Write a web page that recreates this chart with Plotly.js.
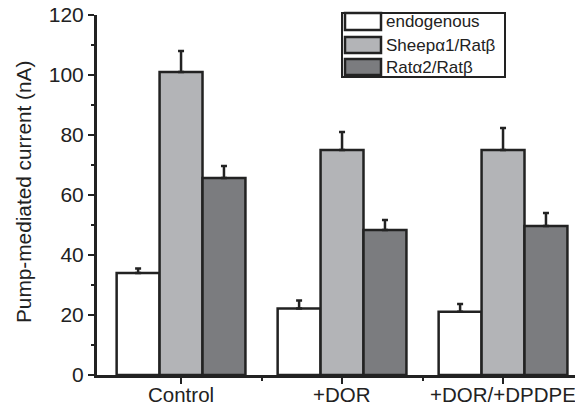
<!DOCTYPE html>
<html>
<head>
<meta charset="utf-8">
<script src="https://cdn.plot.ly/plotly-3.0.1.min.js"></script>
<style>html,body{margin:0;padding:0;background:#fff;}#chart{width:575px;height:414px;}</style>
</head>
<body>
<div id="chart"></div>
<script>
var categories = ["Control", "+DOR", "+DOR/+DPDPE"];
var seriesNames = ["endogenous", "Sheep\u03b11/Rat\u03b2", "Rat\u03b12/Rat\u03b2"];
var endogenous = [34, 22.2, 21.1];
var endogenousErr = [1.5, 2.6, 2.6];
var sheepA1 = [101, 75, 75];
var sheepA1Err = [7, 6, 7.3];
var ratA2 = [65.7, 48.3, 49.7];
var ratA2Err = [4, 3.4, 4.3];
var colors = ["#ffffff", "#b3b4b7", "#7b7c7f"];

var xpos = categories.map(function(_, i){ return i; });
var vals = [endogenous, sheepA1, ratA2];
var errs = [endogenousErr, sheepA1Err, ratA2Err];

var W = 575, H = 414, ML = 97, MR = 0, MT = 15, MB = 39;
var PW = W - ML - MR, PH = H - MT - MB;
function px(x){ return (x - ML) / PW; }
function py(y){ return (H - MB - y) / PH; }

var traces = vals.map(function(v, k){
  return {
    type: "bar",
    name: seriesNames[k],
    x: xpos,
    y: v,
    showlegend: false,
    marker: {color: colors[k], line: {color: "#222", width: 2.5}},
    error_y: {type: "data", array: errs[k], arrayminus: v.map(function(){return 0;}), symmetric: false,
              color: "#222", thickness: 2.5, width: 3},
    hoverinfo: "none"
  };
});

// legend drawn as a box with wide swatches
var rows = [[13, 30], [37, 53], [59, 75]];
var shapes = [{type: "rect", xref: "paper", yref: "paper", x0: px(342), x1: px(505), y0: py(77), y1: py(13),
               line: {color: "#222", width: 2}, fillcolor: "#fff", layer: "above"}];
var annotations = [];
seriesNames.forEach(function(n, k){
  shapes.push({type: "rect", xref: "paper", yref: "paper", x0: px(345), x1: px(381),
               y0: py(rows[k][1]), y1: py(rows[k][0]),
               line: {color: "#222", width: 2.5}, fillcolor: colors[k], layer: "above"});
  annotations.push({xref: "paper", yref: "paper", x: px(384), y: py((rows[k][0] + rows[k][1]) / 2),
                    xanchor: "left", yanchor: "middle", text: n, showarrow: false,
                    font: {size: 17, color: "#222"}});
});
// category labels (as annotations so the last one is not dropped at the edge)
categories.forEach(function(c, i){
  annotations.push({xref: "x", yref: "paper", x: xpos[i], y: py(394), xanchor: "center", yanchor: "middle",
                    text: c, showarrow: false, font: {size: 20.5, color: "#222"}});
});
// y-axis title as annotation for exact placement
annotations.push({xref: "paper", yref: "paper", x: px(23), y: py(192), xanchor: "center", yanchor: "middle",
                  text: "Pump-mediated current (nA)", textangle: -90, showarrow: false,
                  font: {size: 20.8, color: "#222"}});

var layout = {
  width: W, height: H,
  margin: {l: ML, r: MR, t: MT, b: MB, pad: 0},
  paper_bgcolor: "#fff", plot_bgcolor: "#fff",
  barmode: "group", bargap: 0.2, bargroupgap: 0,
  font: {family: "Liberation Sans, Arial, sans-serif", color: "#222"},
  showlegend: false,
  shapes: shapes,
  annotations: annotations,
  xaxis: {
    range: [-0.522, 2.447], tickmode: "array", tickvals: xpos, showticklabels: false,
    showline: true, linecolor: "#222", linewidth: 3, ticks: "outside", ticklen: 6, tickwidth: 2.5, tickcolor: "#222",
    minor: {tickmode: "array", tickvals: [0.5, 1.5], ticks: "outside", ticklen: 3, tickwidth: 2, tickcolor: "#222"},
    showgrid: false, zeroline: false, fixedrange: true
  },
  yaxis: {
    range: [0, 120], tickvals: [0, 20, 40, 60, 80, 100, 120],
    showline: true, linecolor: "#222", linewidth: 3, ticks: "outside", ticklen: 6, tickwidth: 2.5, tickcolor: "#222",
    minor: {tickmode: "array", tickvals: [10, 30, 50, 70, 90, 110], ticks: "outside", ticklen: 3, tickwidth: 2, tickcolor: "#222"},
    showgrid: false, zeroline: false, tickfont: {size: 21}, fixedrange: true
  }
};

Plotly.newPlot("chart", traces, layout, {staticPlot: true, displayModeBar: false});
</script>
</body>
</html>
